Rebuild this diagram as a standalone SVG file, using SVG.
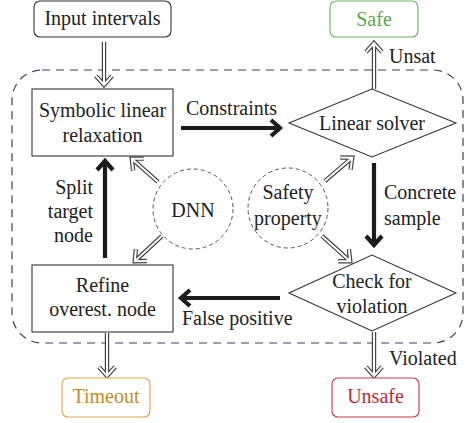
<svg xmlns="http://www.w3.org/2000/svg" width="466" height="423" viewBox="0 0 466 423">
<defs>
<style>
.box{fill:#fff;stroke:#333;stroke-width:1.1}
.ho{fill:none;stroke:#444;stroke-width:4.4;stroke-linejoin:miter}
.hi{fill:none;stroke:#fff;stroke-width:2;stroke-linejoin:miter}
.th{fill:none;stroke:#1c1c1c;stroke-width:4.2}
.circ{fill:none;stroke:#555;stroke-width:1;stroke-dasharray:4 3}
</style>
</defs>
<rect x="0" y="0" width="466" height="423" fill="#fff"/>
<rect id="loop" x="12" y="70" width="451" height="273" rx="30" fill="none" stroke="#3b4060" stroke-width="1.2" stroke-dasharray="8 6"/>

<g id="connectors">
  <g transform="translate(104,86) rotate(90)"><path class="ho" d="M-44,0H-2M-10,-8L-1,0L-10,8"/><path class="hi" d="M-44,0H-2M-10,-8L-1,0L-10,8"/></g>
  <g transform="translate(374,42) rotate(-90)"><path class="ho" d="M-47,0H-2M-10,-8L-1,0L-10,8"/><path class="hi" d="M-47,0H-2M-10,-8L-1,0L-10,8"/></g>
  <g transform="translate(107,377) rotate(90)"><path class="ho" d="M-44,0H-2M-10,-8L-1,0L-10,8"/><path class="hi" d="M-44,0H-2M-10,-8L-1,0L-10,8"/></g>
  <g transform="translate(374,377) rotate(90)"><path class="ho" d="M-45,0H-2M-10,-8L-1,0L-10,8"/><path class="hi" d="M-45,0H-2M-10,-8L-1,0L-10,8"/></g>
  <g transform="translate(131,158) rotate(-138.4)"><path class="ho" d="M-36,0H-2M-10,-8L-1,0L-10,8"/><path class="hi" d="M-36,0H-2M-10,-8L-1,0L-10,8"/></g>
  <g transform="translate(134,262) rotate(137.1)"><path class="ho" d="M-38,0H-2M-10,-8L-1,0L-10,8"/><path class="hi" d="M-38,0H-2M-10,-8L-1,0L-10,8"/></g>
  <g transform="translate(353,157) rotate(-40.6)"><path class="ho" d="M-37,0H-2M-10,-8L-1,0L-10,8"/><path class="hi" d="M-37,0H-2M-10,-8L-1,0L-10,8"/></g>
  <g transform="translate(351,262) rotate(41.9)"><path class="ho" d="M-39,0H-2M-10,-8L-1,0L-10,8"/><path class="hi" d="M-39,0H-2M-10,-8L-1,0L-10,8"/></g>
  <g transform="translate(281,128)"><path class="th" d="M-100,0H-2M-10,-8L-1,0L-10,8"/></g>
  <g transform="translate(374,246) rotate(90)"><path class="th" d="M-83,0H-2M-10,-8L-1,0L-10,8"/></g>
  <g transform="translate(180,298) rotate(180)"><path class="th" d="M-100,0H-2M-10,-8L-1,0L-10,8"/></g>
  <g transform="translate(105,160) rotate(-90)"><path class="th" d="M-98,0H-2M-10,-8L-1,0L-10,8"/></g>
  <text x="186" y="115" style="font-family:'Liberation Serif',serif;font-size:20px;fill:#222">Constraints</text>
  <text x="389" y="63" style="font-family:'Liberation Serif',serif;font-size:20px;fill:#222">Unsat</text>
  <text x="384" y="199" style="font-family:'Liberation Serif',serif;font-size:20px;fill:#222">Concrete</text>
  <text x="384" y="225" style="font-family:'Liberation Serif',serif;font-size:20px;fill:#222">sample</text>
  <text x="182" y="325" style="font-family:'Liberation Serif',serif;font-size:20px;fill:#222">False positive</text>
  <text x="93" y="194" style="font-family:'Liberation Serif',serif;font-size:20px;fill:#222;text-anchor:end">Split</text>
  <text x="93" y="218" style="font-family:'Liberation Serif',serif;font-size:20px;fill:#222;text-anchor:end">target</text>
  <text x="93" y="242" style="font-family:'Liberation Serif',serif;font-size:20px;fill:#222;text-anchor:end">node</text>
  <text x="389" y="365" style="font-family:'Liberation Serif',serif;font-size:20px;fill:#222">Violated</text>
</g>

<g id="input"><rect x="34" y="1" width="137" height="36" rx="6" fill="#fff" stroke="#333" stroke-width="1.1"/><text x="102.5" y="25" style="font-family:'Liberation Serif',serif;font-size:20px;fill:#222;text-anchor:middle">Input intervals</text></g>
<g id="safe"><rect x="330" y="1" width="88" height="36" rx="6" fill="#fff" stroke="#6cb35e" stroke-width="1.1"/><text x="374" y="26" style="font-family:'Liberation Serif',serif;font-size:20px;fill:#5aa84d;text-anchor:middle">Safe</text></g>
<g id="symbolic"><rect class="box" x="32" y="89" width="141" height="67"/><text x="102.5" y="117" style="font-family:'Liberation Serif',serif;font-size:20px;fill:#222;text-anchor:middle">Symbolic linear</text><text x="102.5" y="142" style="font-family:'Liberation Serif',serif;font-size:20px;fill:#222;text-anchor:middle">relaxation</text></g>
<g id="solver"><path class="box" d="M289,123L372,89L456,123L372,157Z"/><text x="372" y="130" style="font-family:'Liberation Serif',serif;font-size:20px;fill:#222;text-anchor:middle">Linear solver</text></g>
<g id="dnn"><circle class="circ" cx="193" cy="209" r="40"/><text x="193" y="217" style="font-family:'Liberation Serif',serif;font-size:20px;fill:#222;text-anchor:middle">DNN</text></g>
<g id="safety"><circle class="circ" cx="288" cy="208" r="40"/><text x="288" y="199" style="font-family:'Liberation Serif',serif;font-size:20px;fill:#222;text-anchor:middle">Safety</text><text x="288" y="225" style="font-family:'Liberation Serif',serif;font-size:20px;fill:#222;text-anchor:middle">property</text></g>
<g id="check"><path class="box" d="M289,293L372,255L456,293L372,331Z"/><text x="372" y="288" style="font-family:'Liberation Serif',serif;font-size:20px;fill:#222;text-anchor:middle">Check for</text><text x="372" y="313" style="font-family:'Liberation Serif',serif;font-size:20px;fill:#222;text-anchor:middle">violation</text></g>
<g id="refine"><rect class="box" x="32" y="265" width="141" height="67"/><text x="102.5" y="292" style="font-family:'Liberation Serif',serif;font-size:20px;fill:#222;text-anchor:middle">Refine</text><text x="102.5" y="316" style="font-family:'Liberation Serif',serif;font-size:20px;fill:#222;text-anchor:middle">overest. node</text></g>
<g id="timeout"><rect x="62" y="378" width="88" height="39" rx="6" fill="#fff" stroke="#e0a548" stroke-width="1.1"/><text x="106" y="403" style="font-family:'Liberation Serif',serif;font-size:20px;fill:#c98a1c;text-anchor:middle">Timeout</text></g>
<g id="unsafe"><rect x="332" y="378" width="87" height="39" rx="6" fill="#fff" stroke="#c83a48" stroke-width="1.1"/><text x="375.5" y="403" style="font-family:'Liberation Serif',serif;font-size:20px;fill:#c0283a;text-anchor:middle">Unsafe</text></g>
</svg>
